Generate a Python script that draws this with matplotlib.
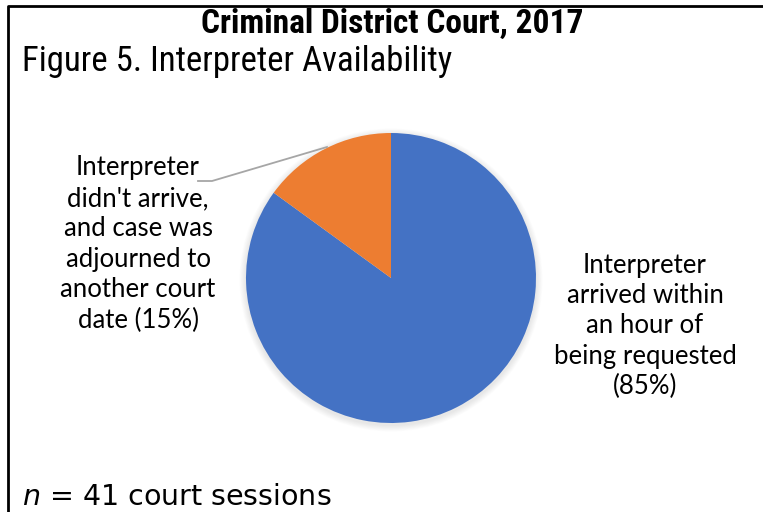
import matplotlib
matplotlib.use("Agg")
import matplotlib.pyplot as plt
from matplotlib import font_manager
from matplotlib.patches import Circle

# Interpreter availability, Criminal District Court 2017
labels = [
    "Interpreter\narrived within\nan hour of\nbeing requested\n(85%)",
    "Interpreter\ndidn't arrive,\nand case was\nadjourned to\nanother court\ndate (15%)",
]
shares = [85, 15]
colors = ["#4472C4", "#ED7D31"]

W, H = 763, 512
fig = plt.figure(figsize=(W / 100, H / 100), dpi=100)
ax = fig.add_axes([0, 0, 1, 1])


def py(y):
    # convert a top-down pixel row to the axes' bottom-up coordinate
    return H - y


# narrow face for the headings, if one is installed
installed = {f.name for f in font_manager.fontManager.ttflist}
narrow = next((n for n in ["Roboto Condensed", "Liberation Sans Narrow",
                           "Open Sans Condensed", "DejaVu Sans Condensed"]
               if n in installed), "Liberation Sans")

cx, cy, r = 391, py(278), 145

# soft drop shadow under the pie
for i in range(8):
    ax.add_patch(Circle((cx, cy - 2), r + 1 + i * 0.8, color="black",
                        alpha=0.012, lw=0, zorder=1))

ax.pie(shares, colors=colors, startangle=90, counterclock=False,
       center=(cx, cy), radius=r, frame=True,
       wedgeprops=dict(linewidth=0, zorder=2))
ax.set_xlim(0, W)
ax.set_ylim(0, H)
ax.set_aspect("equal")
ax.axis("off")

label_font = dict(family="Lato", fontsize=18.5, color="black",
                  ha="center", va="center", multialignment="center",
                  linespacing=1.27)
ax.text(645, py(326), labels[0], **label_font)
ax.text(138, py(244), labels[1], **label_font)

# leader line to the orange slice
ax.plot([198, 212, 327], [py(181), py(181), py(147)],
        color="#A6A6A6", lw=1.3, zorder=3)

title = ax.text(392, py(33), "Criminal District Court, 2017",
                family=narrow, fontweight="bold", fontsize=24,
                ha="center", va="baseline")
subtitle = ax.text(22, py(71), "Figure 5. Interpreter Availability",
                   family=narrow, fontsize=25, ha="left", va="baseline")

# shrink the headings if the fallback face runs too wide
renderer = fig.canvas.get_renderer()
for txt, width in [(title, 392), (subtitle, 446)]:
    w = txt.get_window_extent(renderer).width
    if w > width:
        txt.set_fontsize(txt.get_fontsize() * width / w)

plt.rcParams["mathtext.fontset"] = "dejavusans"
ax.text(22, py(505), r"$n$ = 41 court sessions",
        family="DejaVu Sans", fontsize=20.5, ha="left", va="baseline")

# frame around the figure
ax.plot([8, 8, W + 5], [-5, py(6), py(6)], color="black", lw=2,
        solid_capstyle="butt", clip_on=False)

fig.savefig("out.png", dpi=100)
